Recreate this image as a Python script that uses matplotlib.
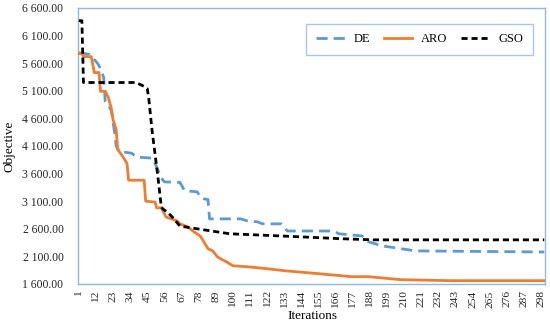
import matplotlib
matplotlib.use("Agg")
import matplotlib.pyplot as plt
from matplotlib.ticker import FuncFormatter

plt.rcParams['font.family'] = ['Liberation Serif', 'DejaVu Serif']

# ---- data ----
de_x = [1, 8, 13, 15, 17, 18, 20, 22, 24, 25, 27, 35, 38, 48, 50, 51, 54, 56, 66, 69, 77, 80,
        84, 85, 105, 109, 116, 119, 131, 135, 165, 168, 183, 187, 196, 208, 217, 300]
de_y = [5790, 5760, 5600, 5500, 5340, 4910, 4850, 4730, 4350, 4100, 4000, 3970, 3900, 3880,
        3780, 3720, 3520, 3450, 3440, 3290, 3270, 3150, 3130, 2780, 2780, 2745, 2725, 2690,
        2690, 2560, 2560, 2510, 2470, 2365, 2290, 2240, 2200, 2180]

aro_x = [1, 3, 4, 9, 11, 14, 15, 18, 20, 22, 23, 25, 26, 29, 31, 32, 33, 43, 44, 50, 51, 54,
         57, 64, 66, 71, 75, 79, 81, 84, 87, 90, 92, 96, 100, 109, 122, 133, 155, 176, 187,
         208, 241, 300]
aro_y = [5775, 5775, 5720, 5720, 5430, 5430, 5090, 5090, 4980, 4770, 4580, 4400, 4040, 3920,
         3830, 3780, 3480, 3480, 3100, 3085, 2980, 2980, 2815, 2745, 2690, 2635, 2545, 2470,
         2380, 2240, 2200, 2095, 2057, 2000, 1930, 1913, 1877, 1841, 1787, 1733, 1733, 1678,
         1660, 1660]

gso_x = [1, 3, 4, 38, 40, 43, 45, 46, 48, 50, 52, 54, 55, 58, 61, 66, 77, 98, 131, 170, 190, 300]
gso_y = [6370, 6370, 5250, 5250, 5220, 5180, 5140, 4950, 4400, 3950, 3500, 3000, 2960, 2900,
         2815, 2650, 2600, 2510, 2470, 2420, 2400, 2400]

series_names = ["DE", "ARO", "GSO"]
x_ticks = list(range(1, 300, 11))
y_ticks = list(range(1600, 6601, 500))

# ---- figure ----
fig = plt.figure(figsize=(5.5, 3.25), dpi=100)
ax = fig.add_axes([78/550, (325-284)/325, (545-78)/550, (284-8)/325])

ax.plot(de_x, de_y, color='#5B9BD5', lw=2, dashes=(4, 2.2), label=series_names[0], zorder=2)
ax.plot(aro_x, aro_y, color='#ED7D31', lw=2, label=series_names[1], zorder=3)
ax.plot(gso_x, gso_y, color='black', lw=2, dashes=(2.2, 1.4), label=series_names[2], zorder=4)

ax.set_xlim(0.5, 300.5)
ax.set_ylim(1600, 6600)
ax.set_xticks(x_ticks)
ax.set_xticklabels([str(t) for t in x_ticks], rotation=90, fontsize=8.2)
ax.set_yticks(y_ticks)
ax.yaxis.set_major_formatter(FuncFormatter(lambda v, p: f"{v:,.2f}".replace(",", " ")))
ax.tick_params(axis='y', length=0, labelsize=8.4, pad=10.5, colors='#222222')
ax.tick_params(axis='x', length=0, labelsize=8.2, pad=4.5, colors='#222222')

for s in ax.spines.values():
    s.set_color('#8DB9E2')
    s.set_linewidth(1)

ax.set_xlabel("Iterations", fontsize=9.5, labelpad=1.5)
ax.xaxis.set_label_coords((312 - 78) / (545 - 78), -(316 - 284) / (284 - 8))
ax.xaxis.label.set_va('center')
ax.set_ylabel("Objective", fontsize=9.5, labelpad=6)
ax.yaxis.set_label_coords(-(78 - 15) / (545 - 78), 0.5)

leg = ax.legend(ncol=3, loc='upper right', bbox_to_anchor=(533/550, 1 - 24/325),
                bbox_transform=fig.transFigure, fontsize=9, frameon=True, fancybox=False,
                handlelength=2.3, handletextpad=0.7, columnspacing=1.1, borderpad=0.75,
                borderaxespad=0)
leg.get_frame().set_edgecolor('#8DB9E2')
leg.get_frame().set_linewidth(1)

fig.savefig("out.png", dpi=100)
